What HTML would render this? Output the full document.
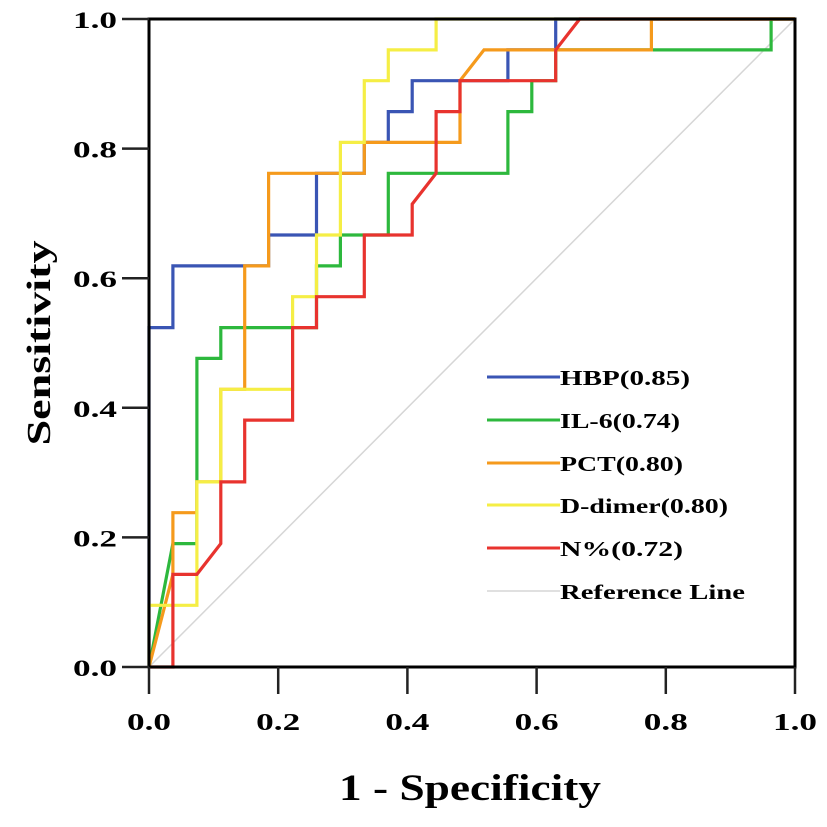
<!DOCTYPE html>
<html><head><meta charset="utf-8"><style>
html,body{margin:0;padding:0;background:#fff;}
svg{display:block;font-family:"Liberation Serif",serif;font-weight:bold;}
</style></head><body>
<svg id="chart" width="827" height="827" viewBox="0 0 827 827" xmlns="http://www.w3.org/2000/svg">
<rect x="0" y="0" width="827" height="827" fill="#fff"/>
<g id="plot"></g>
<g id="axes"></g>
<g id="legend"></g>
<text x="470" y="800" text-anchor="middle" font-size="37" textLength="262" lengthAdjust="spacingAndGlyphs">1 - Specificity</text>
<text transform="translate(50,343) rotate(-90)" text-anchor="middle" font-size="34" textLength="205" lengthAdjust="spacingAndGlyphs">Sensitivity</text>
</svg>
<script>
const seriesNames = ["HBP(0.85)","IL-6(0.74)","PCT(0.80)","D-dimer(0.80)","N%(0.72)"];
const seriesColors = ["#3a55b4","#2db83d","#f59a1c","#f5ee45","#e8332e"];
const hbpFpr = [0,0,1,1,5,5,7,7,9,9,10,10,11,11,15,15,17,17,27].map(v=>v/27);
const hbpTpr = [0,11,11,13,13,14,14,16,16,17,17,18,18,19,19,20,20,21,21].map(v=>v/21);
const il6Fpr = [0,1,2,2,3,3,7,7,8,8,10,10,15,15,16,16,17,17,26,26,27].map(v=>v/27);
const il6Tpr = [0,4,4,10,10,11,11,13,13,14,14,16,16,18,18,19,19,20,20,21,21].map(v=>v/21);
const pctFpr = [0,1,1,2,2,3,3,4,4,5,5,9,9,13,13,14,21,21,27].map(v=>v/27);
const pctTpr = [0,3,5,5,6,6,9,9,13,13,16,16,17,17,19,20,20,21,21].map(v=>v/21);
const ddFpr = [0,0,2,2,3,3,6,6,7,7,8,8,9,9,10,10,12,12,27].map(v=>v/27);
const ddTpr = [0,2,2,6,6,9,9,12,12,14,14,17,17,19,19,20,20,21,21].map(v=>v/21);
const nFpr = [0,1,1,2,3,3,4,4,6,6,7,7,9,9,11,11,12,12,13,13,17,17,18,27].map(v=>v/27);
const nTpr = [0,0,3,3,4,6,6,8,8,11,11,12,12,14,14,15,16,18,18,19,19,20,21,21].map(v=>v/21);
const xTicks = [0,0.2,0.4,0.6,0.8,1.0];
const yTicks = [0,0.2,0.4,0.6,0.8,1.0];
const tickLabels = ["0.0","0.2","0.4","0.6","0.8","1.0"];
const legendLabels = ["HBP(0.85)","IL-6(0.74)","PCT(0.80)","D-dimer(0.80)","N%(0.72)","Reference Line"];

const X0=149,X1=795,Y0=667,Y1=19;
const sx=v=>X0+v*(X1-X0);
const sy=v=>Y0-v*(Y0-Y1);
const NS="http://www.w3.org/2000/svg";
function mk(tag,attrs,parent){const e=document.createElementNS(NS,tag);for(const k in attrs)e.setAttribute(k,attrs[k]);parent.appendChild(e);return e;}
const plot=document.getElementById('plot'),axes=document.getElementById('axes'),legend=document.getElementById('legend');

const ref=mk('line',{x1:sx(0),y1:sy(0),x2:sx(1),y2:sy(1),stroke:'#d6d6d6','stroke-width':1.5},plot);



const allSeries=[[hbpFpr,hbpTpr],[il6Fpr,il6Tpr],[pctFpr,pctTpr],[ddFpr,ddTpr],[nFpr,nTpr]];
const seriesKeys=["hbp","il6","pct","d-dimer","n-percent"];
allSeries.forEach((s,i)=>{
  const pts=s[0].map((x,j)=>sx(x).toFixed(1)+','+sy(s[1][j]).toFixed(1)).join(' ');
  const p=mk('polyline',{points:pts,fill:'none',stroke:seriesColors[i],'stroke-width':3.2,'stroke-linejoin':'miter'},plot);
  
  
});

const frame=mk('rect',{x:X0,y:Y1,width:X1-X0,height:Y0-Y1,fill:'none',stroke:'#000','stroke-width':3},axes);



xTicks.forEach((v,i)=>{
  const t=mk('line',{x1:sx(v),y1:Y0,x2:sx(v),y2:Y0+27,stroke:'#222','stroke-width':2.5},axes);
  
  
  const l=mk('text',{x:sx(v),y:730,'text-anchor':'middle','font-size':24,textLength:44,lengthAdjust:'spacingAndGlyphs'},axes);
  l.textContent=tickLabels[i];
  
  
});
yTicks.forEach((v,i)=>{
  const t=mk('line',{x1:122,y1:sy(v),x2:X0,y2:sy(v),stroke:'#222','stroke-width':2.5},axes);
  
  
  const l=mk('text',{x:117,y:sy(v)+9,'text-anchor':'end','font-size':23,textLength:44,lengthAdjust:'spacingAndGlyphs'},axes);
  l.textContent=tickLabels[i];
  
  
});

const legY=[377,420,463,505,548,591];
const legW=[130,120,123,168,123,185];
const legColors=seriesColors.concat(["#d6d6d6"]);
legendLabels.forEach((lab,i)=>{
  const ln=mk('line',{x1:487,y1:legY[i],x2:560,y2:legY[i],stroke:legColors[i],'stroke-width':i<5?3:1.5},legend);
  
  
  const t=mk('text',{x:560,y:legY[i]+8,'font-size':21,textLength:legW[i],lengthAdjust:'spacingAndGlyphs'},legend);
  t.textContent=lab;
  
  
});
</script>
</body></html>
